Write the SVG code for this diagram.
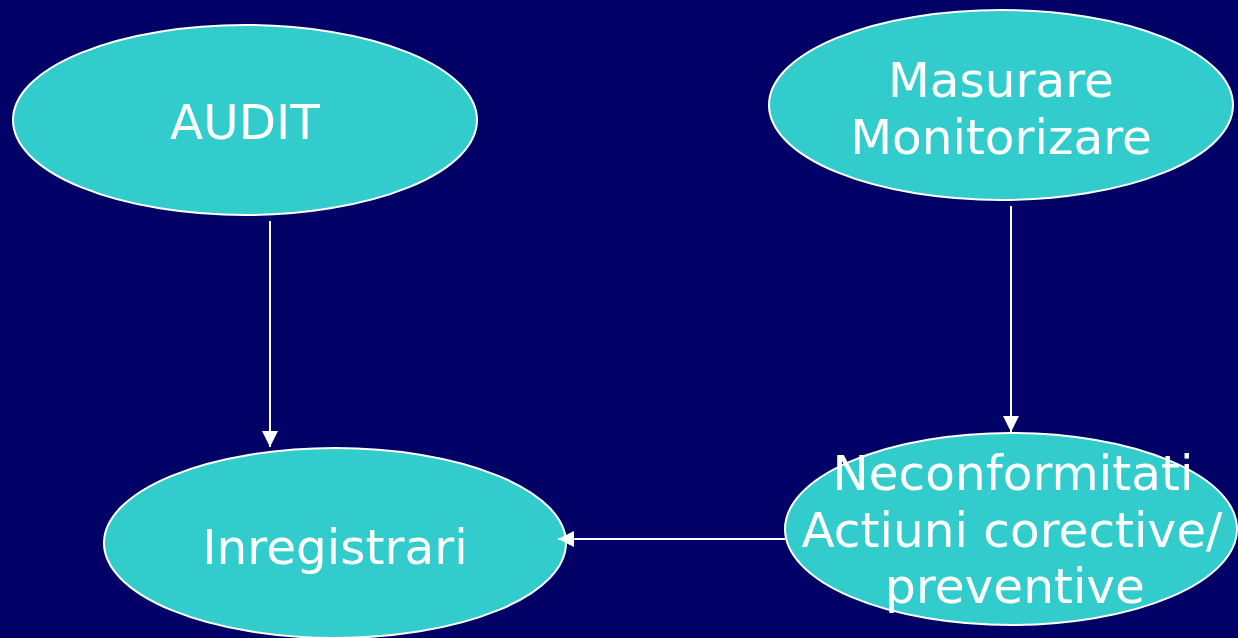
<svg xmlns="http://www.w3.org/2000/svg" width="1238" height="638" viewBox="0 0 1238 638">
<style>
.node{fill:#33CCCC;stroke:#FFFFFF;stroke-width:2}
.lbl{font-family:"DejaVu Sans",Verdana,sans-serif;font-size:48.5px;fill:#FFFFFF;text-anchor:middle}
.conn{stroke:#FFFFFF;stroke-width:2;fill:none}
</style>
<defs>
<marker id="arr" viewBox="0 0 16 16" refX="16" refY="8" markerWidth="16" markerHeight="16" markerUnits="userSpaceOnUse" orient="auto">
<path d="M0,0 L16,8 L0,16 Z" fill="#FFFFFF"/>
</marker>
</defs>
<rect width="1238" height="638" fill="#000066"/>
<g id="audit">
<ellipse class="node" cx="245" cy="120" rx="232" ry="95"/>
<text class="lbl" x="245" y="139">AUDIT</text>
</g>
<g id="masurare">
<ellipse class="node" cx="1001" cy="105" rx="232" ry="95"/>
<text class="lbl" x="1001" y="97">Masurare</text>
<text class="lbl" x="1001" y="154">Monitorizare</text>
</g>
<g id="inregistrari">
<ellipse class="node" cx="335" cy="543" rx="231" ry="95"/>
<text class="lbl" x="335" y="564">Inregistrari</text>
</g>
<g id="neconformitati">
<ellipse class="node" cx="1011" cy="529" rx="226" ry="96"/>
<text class="lbl" x="1013" y="490">Neconformitati</text>
<text class="lbl" x="1012" y="547">Actiuni corective/</text>
<text class="lbl" x="1015" y="603">preventive</text>
</g>
<g id="connectors">
<line class="conn" x1="270" y1="221" x2="270" y2="447" marker-end="url(#arr)"/>
<line class="conn" x1="1011" y1="206" x2="1011" y2="432" marker-end="url(#arr)"/>
<line class="conn" x1="785" y1="539" x2="558" y2="539" marker-end="url(#arr)"/>
</g>
</svg>
